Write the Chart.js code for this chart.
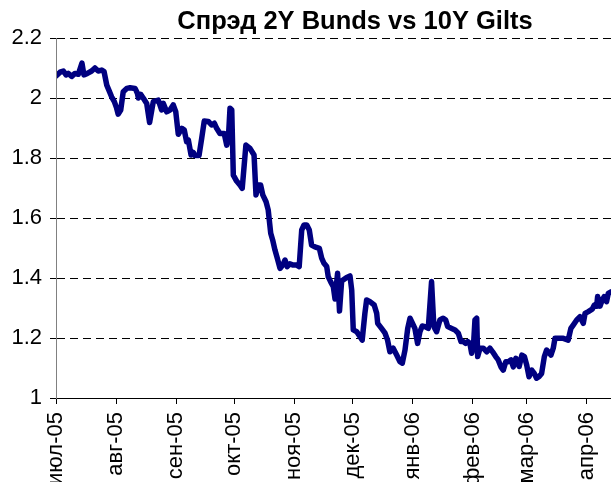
<!DOCTYPE html>
<html><head><meta charset="utf-8">
<script src="https://cdn.jsdelivr.net/npm/chart.js@4/dist/chart.umd.min.js"></script>
<style>html,body{margin:0;padding:0;background:#fff;} canvas{display:block;}</style>
</head><body>
<canvas id="c" width="611" height="482"></canvas>
<script>
const chartTitle = 'Спрэд 2Y Bunds vs 10Y Gilts';
// month starts, in days since 1 Jul 2005
const monthDays = [0, 31, 62, 92, 123, 153, 184, 215, 243, 274];
const monthLabels = ['июл-05','авг-05','сен-05','окт-05','ноя-05','дек-05','янв-06','фев-06','мар-06','апр-06'];
const yTicks = [1, 1.2, 1.4, 1.6, 1.8, 2, 2.2];
const yTickLabels = ['1','1.2','1.4','1.6','1.8','2','2.2'];

// observation dates (days since 1 Jul 2005)
const days = [0,2.1,3.8,5.2,6.3,8.1,9.8,11.5,13.4,14.4,16.2,18.4,20.1,21.8,23.6,24.8,26.2,27.5,28.7,30.1,31.3,32.1,33.4,34.7,36.5,38.2,40.8,42.0,42.5,43.7,45.0,46.8,48.3,
50.2,52.8,54.5,55.4,57.1,58.8,60.5,61.8,63.1,64.9,66.2,67.4,68.3,69.7,70.8,71.7,73.8,75.2,76.5,78.6,80.3,81.7,82.9,84.6,86.8,88.1,88.9,89.8,90.7,91.5,93.2,94.9,96.1,
98.0,100.1,102.2,103.2,104.4,105.6,106.7,108.4,109.5,110.8,111.8,113.0,114.2,115.6,117.0,118.2,119.3,120.7,122.4,124.2,125.5,126.8,128.0,129.4,130.7,131.9,133.6,135.9,137.1,138.3,139.7,140.5,141.7,143.1,144.0,145.3,
146.3,147.4,150.0,151.7,152.6,153.4,155.2,156.9,158.0,159.4,160.3,162.0,164.2,165.5,166.0,168.0,169.8,171.1,172.3,174.0,175.8,177.5,178.7,180.1,181.5,182.7,183.8,185.2,186.6,187.8,189.0,190.4,192.1,193.8,
195.0,196.4,198.1,199.8,201.1,202.1,204.2,205.9,207.6,209.0,210.2,211.4,212.5,213.6,214.5,215.4,216.2,217.1,217.6,218.8,220.5,222.3,223.9,225.3,226.9,228.2,229.6,230.8,232.1,233.4,234.8,236.0,237.3,239.0,
240.4,241.7,242.9,244.1,245.5,246.8,248.0,249.2,250.6,252.0,253.2,254.0,255.4,256.6,257.5,259.2,261.8,264.3,265.7,266.9,268.7,270.4,272.1,273.0,274.7,276.7,277.8,279.0,279.5,280.7,281.9,282.9,284.1,285.0,286.4];

// spread values
const spread = [2.073,2.086,2.09,2.077,2.082,2.072,2.082,2.079,2.116,2.077,2.082,2.09,2.10,2.09,2.093,2.088,2.043,2.023,2.004,1.988,1.966,1.946,1.96,2.021,2.032,2.034,2.032,2.016,2.0,2.012,2.0,1.982,1.918,
1.988,1.993,1.96,1.982,1.954,1.96,1.977,1.954,1.879,1.899,1.893,1.854,1.86,1.81,1.819,1.808,1.808,1.866,1.923,1.922,1.91,1.916,1.899,1.882,1.882,1.843,1.86,1.966,1.96,1.743,1.723,1.71,1.699,
1.843,1.832,1.81,1.677,1.71,1.71,1.677,1.654,1.627,1.549,1.527,1.493,1.466,1.432,1.443,1.46,1.438,1.447,1.443,1.443,1.438,1.56,1.577,1.577,1.56,1.51,1.504,1.499,1.466,1.449,1.438,1.404,1.388,1.371,1.33,1.416,
1.29,1.39,1.402,1.407,1.36,1.227,1.221,1.204,1.193,1.282,1.327,1.321,1.31,1.282,1.249,1.232,1.216,1.193,1.154,1.166,1.143,1.121,1.116,1.16,1.232,1.266,1.251,1.232,1.182,1.221,1.24,1.238,1.232,1.388,
1.238,1.221,1.26,1.266,1.26,1.238,1.232,1.227,1.216,1.188,1.188,1.182,1.188,1.182,1.149,1.171,1.26,1.266,1.138,1.166,1.166,1.154,1.166,1.154,1.138,1.127,1.104,1.093,1.121,1.121,1.127,1.104,1.132,1.105,
1.143,1.138,1.11,1.071,1.093,1.082,1.066,1.071,1.082,1.138,1.16,1.154,1.143,1.166,1.199,1.199,1.199,1.193,1.232,1.243,1.26,1.271,1.249,1.282,1.288,1.296,1.31,1.306,1.338,1.306,1.327,1.338,1.321,1.349,1.354];

const FONT = '"Liberation Sans", Arial, sans-serif';

const titlePlugin = {
  id: 'customTitle',
  afterDraw(chart) {
    const c = chart.ctx;
    c.save();
    c.font = 'bold 25.5px ' + FONT;
    c.fillStyle = '#000';
    c.textAlign = 'center';
    c.textBaseline = 'middle';
    c.fillText(chartTitle, 355, 22);
    c.restore();
  }
};

new Chart(document.getElementById('c'), {
  type: 'line',
  data: {
    datasets: [{
      data: days.map((d, i) => ({x: d, y: spread[i]})),
      borderColor: '#000080',
      borderWidth: 5.5,
      pointRadius: 0,
      tension: 0,
      borderJoinStyle: 'round',
      borderCapStyle: 'round',
      fill: false
    }]
  },
  options: {
    responsive: false,
    animation: false,
    devicePixelRatio: 1,
    layout: {padding: {top: 38, left: 0, right: 0, bottom: 0}},
    plugins: {legend: {display: false}, title: {display: false}, tooltip: {enabled: false}},
    scales: {
      x: {
        type: 'linear',
        min: 0,
        max: 286.4,
        afterBuildTicks: (s) => { s.ticks = monthDays.map(v => ({value: v})); },
        afterFit: (s) => { s.height = 84; s.paddingRight = 0; s.paddingLeft = 0; },
        grid: {drawOnChartArea: false, drawTicks: true, tickLength: 6, color: '#000', lineWidth: 1},
        border: {display: true, color: '#000', width: 1},
        ticks: {
          autoSkip: false, maxRotation: 90, minRotation: 90, padding: 8,
          color: '#000', font: {family: FONT, size: 22},
          callback: (v) => monthLabels[monthDays.indexOf(v)]
        }
      },
      y: {
        min: 1,
        max: 2.2,
        afterBuildTicks: (s) => { s.ticks = yTicks.map(v => ({value: v})); },
        afterFit: (s) => { s.width = 56; s.paddingTop = 0; s.paddingBottom = 0; },
        grid: {drawOnChartArea: true, drawTicks: true, tickLength: 6, color: '#000', lineWidth: 1, tickBorderDash: [8, 5]},
        border: {display: true, color: '#808080', width: 1, dash: [8, 5]},
        ticks: {
          padding: 8, color: '#000', font: {family: FONT, size: 22},
          callback: (v, i) => yTickLabels[i]
        }
      }
    }
  },
  plugins: [{
    id: 'solidYAxis',
    afterDatasetsDraw(chart) {
      const a = chart.chartArea, c = chart.ctx;
      c.save();
      c.strokeStyle = '#808080';
      c.lineWidth = 1;
      c.beginPath();
      c.moveTo(a.left + 0.5, a.top);
      c.lineTo(a.left + 0.5, a.bottom);
      c.stroke();
      c.restore();
    }
  }, titlePlugin]
});
</script>
</body></html>
